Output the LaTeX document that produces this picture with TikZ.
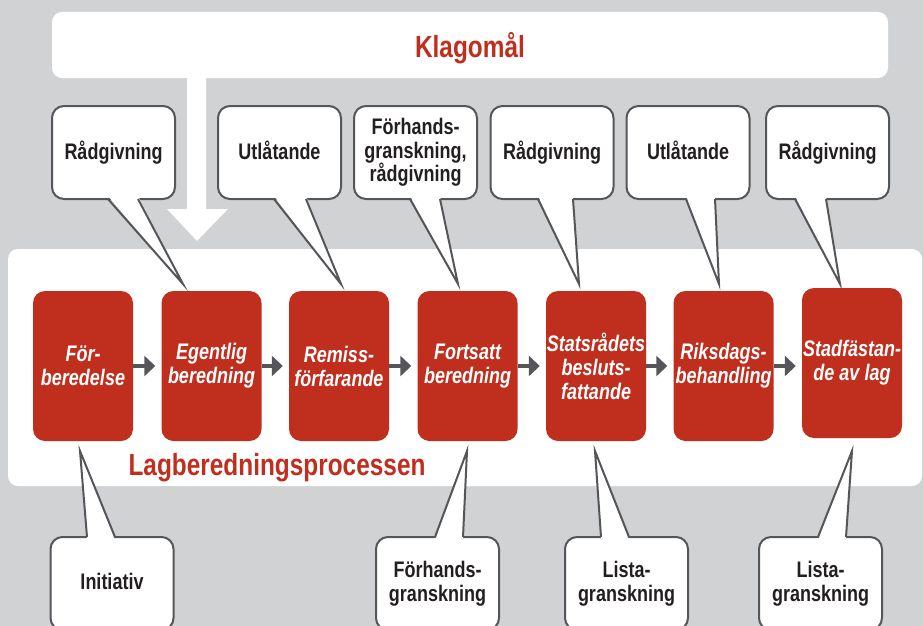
\documentclass[tikz,border=0pt]{standalone}
\usepackage{fontspec}
\setmainfont{Liberation Sans}[FakeStretch=0.8]
\usetikzlibrary{arrows.meta}

\definecolor{lagrod}{RGB}{192,46,30}
\definecolor{bakgrund}{RGB}{209,210,212}
\definecolor{morkgra}{RGB}{85,86,89}
\definecolor{textsvart}{RGB}{35,31,32}

\tikzset{
	steg/.style={fill=lagrod, rounded corners=12pt, minimum width=100pt,
		minimum height=150pt, inner sep=0pt, align=center, text=white,
		font=\fontsize{22.5}{24}\selectfont\bfseries\itshape},
	bubbla/.style={draw=morkgra, line width=2pt, fill=white, rounded corners=12pt,
		minimum width=123pt, minimum height=93pt, inner sep=0pt, outer sep=0pt,
		align=center, text=textsvart, font=\fontsize{22.5}{23.5}\selectfont\bfseries},
	tunga/.style={draw=morkgra, line width=2pt, line join=miter},
	pil/.style={morkgra, line width=4pt, -{Triangle[length=11pt,width=20pt]}, shorten >=6pt},
	rubrik/.style={text=lagrod, anchor=base, font=\fontsize{30.5}{32}\selectfont\bfseries},
}

\begin{document}
\begin{tikzpicture}[x=1pt,y=-1pt]
			\useasboundingbox (0,0) rectangle (923,626);
			\clip (0,0) rectangle (923,626);
			\fill [bakgrund] (0,0) rectangle (923,626);

			% klagomal och pilen nedat
			\fill [white, rounded corners=10pt] (52,12) rectangle (888,78);
			\node [rubrik] (klagomal) at (470,57) {Klagomål};
			\fill [white] (187,70) -- (187,209) -- (167,209) -- (197,241) --
				      (228,209) -- (206,209) -- (206,70) -- cycle;

			% processbandet
			\fill [white, rounded corners=10pt] (8,249) rectangle (922,486);
			\node [rubrik] (process) at (277,475) {Lagberedningsprocessen};

			% bubblor ovanfor
			\node [bubbla] (o1) at (113.5,152.5) {Rådgivning};
			\node [bubbla] (o2) at (279.5,152.5) {\vphantom{g}Utlåtande};
			\node [bubbla] (o3) at (415.5,152.5) {Förhands-\\granskning,\\rådgivning};
			\node [bubbla] (o4) at (552,152.5) {Rådgivning};
			\node [bubbla] (o5) at (688,152.5) {\vphantom{g}Utlåtande};
			\node [bubbla] (o6) at (827.5,152.5) {Rådgivning};
			\foreach \n/\a/\b/\tx in {o1/108/138/183, o2/274/306/341, o3/410/440/458,
					o4/538/573/579, o5/686/715/719, o6/795/826/840} {
				\coordinate (spets\n) at (\tx,284);
				\fill [white] ([yshift=3pt]\a,0 |- \n.south) -- (spets\n) -- ([yshift=3pt]\b,0 |- \n.south) -- cycle;
				\draw [tunga] (\a,0 |- \n.south) -- (spets\n) -- (\b,0 |- \n.south);
			}

			% stegen
			\node [steg] (s1) at (83,366) {För-\\beredelse};
			\node [steg] (s2) at (211.5,366) {Egentlig\\beredning};
			\node [steg] (s3) at (339,366) {Remiss-\\förfarande};
			\node [steg] (s4) at (467.5,366) {Fortsatt\\beredning};
			\node [steg] (s5) at (596,366) {Statsrådets\\besluts-\\fattande};
			\node [steg] (s6) at (723.5,366) {Riksdags-\\behandling};
			\node [steg] (s7) at (852,363) {Stadfästan-\\de av lag};
			\foreach \i [evaluate=\i as \j using int(\i+1)] in {1,...,6} {
				\draw [pil] (s\i.east) -- (s\i.east -| s\j.west);
			}

			% bubblor nedanfor
			\node [bubbla] (n1) at (112,583.5) {\vphantom{g}Initiativ};
			\node [bubbla] (n2) at (437.5,583.5) {Förhands-\\granskning};
			\node [bubbla] (n3) at (626.5,583.5) {Lista-\\granskning};
			\node [bubbla] (n4) at (820.5,583.5) {Lista-\\granskning};
			\foreach \n/\a/\b/\tx in {n1/87/115/80, n2/435/463/467, n3/601/629/595, n4/818/846/852} {
				\coordinate (spets\n) at (\tx,451);
				\fill [white] ([yshift=-3pt]\a,0 |- \n.north) -- (spets\n) -- ([yshift=-3pt]\b,0 |- \n.north) -- cycle;
				\draw [tunga] (\a,0 |- \n.north) -- (spets\n) -- (\b,0 |- \n.north);
			}
\end{tikzpicture}
\end{document}
